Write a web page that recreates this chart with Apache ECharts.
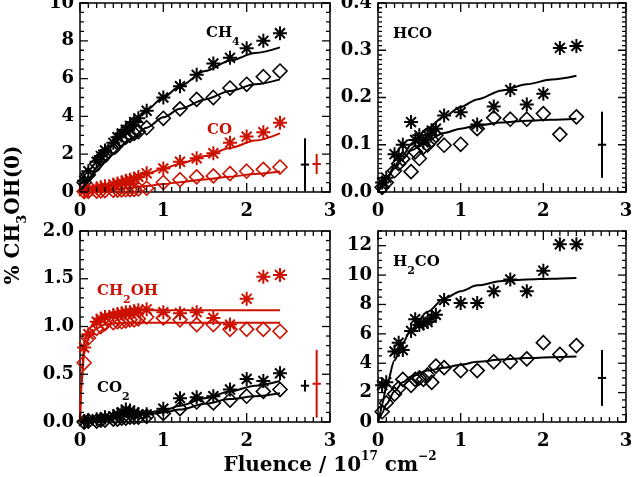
<!DOCTYPE html>
<html>
<head>
<meta charset="utf-8">
<script src="https://cdn.jsdelivr.net/npm/echarts@6/dist/echarts.min.js"></script>
<style>
	html, body { margin: 0; padding: 0; background: #fff; }
	#main { width: 632px; height: 477px; }
</style>
</head>
<body>
<div id="main"></div>
<script>
/*
 四面板图: CH3OH 辐照产物随 fluence 变化
 星号 / 菱形 = 两组实验, 实线 = 拟合, 右侧竖线 = 误差棒
*/

var fluence = [0.05, 0.1, 0.2, 0.25, 0.3, 0.4, 0.45, 0.5, 0.55, 0.6, 0.65, 0.7, 0.8, 1.0, 1.2, 1.4, 1.6, 1.8, 2.0, 2.2, 2.4];

// top left
var ch4Star = [0.6, 1.1, 1.6, 1.9, 2.2, 2.6, 2.9, 3.1, 3.3, 3.5, 3.7, 3.9, 4.3, 5.0, 5.6, 6.2, 6.8, 7.1, 7.6, 8.0, 8.4];
var ch4Diam = [0.5, 0.9, 1.5, 1.8, 2.0, 2.4, 2.6, 2.75, 2.9, 3.0, 3.1, 3.2, 3.4, 3.9, 4.4, 4.9, 5.0, 5.5, 5.7, 6.1, 6.4];
var coStar = [0.05, 0.1, 0.2, 0.25, 0.3, 0.4, 0.45, 0.5, 0.6, 0.65, 0.7, 0.8, 0.99, 1.25, 1.6, 1.78, 2.05, 2.61, 2.93, 3.16, 3.67];
var coDiam = [0.02, 0.03, 0.05, 0.06, 0.07, 0.09, 0.1, 0.11, 0.12, 0.13, 0.14, 0.16, 0.2, 0.5, 0.65, 0.8, 0.85, 0.97, 1.1, 1.2, 1.32];
// top right
var hcoStar = [0.02, 0.03, 0.08, 0.075, 0.1, 0.148, 0.11, 0.12, 0.105, 0.12, 0.13, 0.134, 0.162, 0.169, 0.143, 0.181, 0.216, 0.185, 0.208, 0.305, 0.309];
var hcoDiam = [0.01, 0.02, 0.045, 0.06, 0.07, 0.043, 0.085, 0.071, 0.095, 0.1, 0.11, 0.12, 0.099, 0.101, 0.134, 0.157, 0.154, 0.154, 0.166, 0.122, 0.159];
// bottom left
var ch2ohStar = [0.78, 0.92, 1.05, 1.08, 1.1, 1.12, 1.13, 1.14, 1.15, 1.15, 1.16, 1.17, 1.18, 1.15, 1.14, 1.15, 1.09, 1.02, 1.29, 1.52, 1.54];
var ch2ohDiam = [0.62, 0.88, 0.98, 1.0, 1.03, 1.04, 1.05, 1.05, 1.06, 1.07, 1.07, 1.08, 1.1, 1.09, 1.07, 1.02, 1.02, 0.97, 0.97, 0.97, 0.95];
var co2Star = [0.01, 0.02, 0.03, 0.03, 0.05, 0.06, 0.08, 0.1, 0.13, 0.12, 0.1, 0.08, 0.08, 0.14, 0.25, 0.26, 0.27, 0.34, 0.45, 0.43, 0.51];
var co2Diam = [0.0, 0.01, 0.01, 0.02, 0.02, 0.03, 0.03, 0.04, 0.04, 0.05, 0.05, 0.05, 0.06, 0.09, 0.14, 0.21, 0.2, 0.23, 0.27, 0.32, 0.34];
// bottom right
var h2coStar = [2.5, 2.7, 4.8, 5.4, 4.9, 6.2, 7.0, 6.6, 6.7, 6.8, 7.1, 7.3, 8.3, 8.1, 8.1, 8.9, 9.7, 8.9, 10.3, 12.1, 12.1];
var h2coDiam = [0.7, 1.3, 1.9, 2.3, 2.9, 2.5, 2.9, 3.0, 2.9, 3.2, 2.7, 3.8, 3.7, 3.5, 3.5, 4.1, 4.1, 4.3, 5.4, 4.6, 5.2];

// fit curves
var fitX = [0, 0.02, 0.05, 0.1, 0.2, 0.3, 0.4, 0.6, 0.8, 1.0, 1.2, 1.5, 1.8, 2.1, 2.4];
var ch4StarFit = [0, 0.14, 0.34, 0.67, 1.3, 1.9, 2.5, 3.5, 4.35, 5.0, 5.6, 6.4, 6.95, 7.35, 7.65];
var ch4DiamFit = [0, 0.12, 0.29, 0.57, 1.1, 1.57, 2.0, 2.8, 3.4, 3.95, 4.4, 4.9, 5.35, 5.7, 5.96];
var coStarFit = [0, 0.02, 0.06, 0.12, 0.23, 0.34, 0.45, 0.71, 0.97, 1.23, 1.5, 1.9, 2.33, 2.72, 3.1];
var coDiamFit = [0, 0.01, 0.02, 0.04, 0.07, 0.1, 0.14, 0.23, 0.32, 0.42, 0.52, 0.66, 0.81, 0.95, 1.08];
var hcoStarFit = [0, 0.006, 0.014, 0.028, 0.055, 0.078, 0.1, 0.135, 0.16, 0.18, 0.196, 0.215, 0.228, 0.238, 0.246];
var hcoDiamFit = [0, 0.006, 0.014, 0.027, 0.05, 0.07, 0.088, 0.11, 0.125, 0.134, 0.141, 0.147, 0.151, 0.153, 0.155];
var ch2ohStarFit = [0, 0.45, 0.82, 0.97, 1.08, 1.13, 1.15, 1.165, 1.17, 1.17, 1.17, 1.17, 1.17, 1.17, 1.17];
var ch2ohDiamFit = [0, 0.4, 0.72, 0.88, 0.98, 1.02, 1.035, 1.04, 1.04, 1.04, 1.04, 1.04, 1.04, 1.04, 1.04];
var co2StarFit = [0, 0.001, 0.003, 0.007, 0.02, 0.035, 0.05, 0.08, 0.1, 0.12, 0.17, 0.25, 0.32, 0.38, 0.43];
var co2DiamFit = [0, 0.001, 0.002, 0.005, 0.015, 0.03, 0.04, 0.065, 0.08, 0.1, 0.13, 0.19, 0.24, 0.27, 0.3];
var h2coStarFit = [0, 0.5, 1.2, 2.4, 4.2, 5.4, 6.3, 7.5, 8.4, 8.9, 9.3, 9.6, 9.7, 9.75, 9.8];
var h2coDiamFit = [0, 0.25, 0.6, 1.2, 2.1, 2.7, 3.1, 3.5, 3.7, 3.9, 4.1, 4.25, 4.35, 4.4, 4.45];

// error bars: [fluence, centre, half length]
var errCH4 = [2.7, 1.45, 1.4];
var errCO = [2.84, 1.48, 0.53];
var errHCO = [2.71, 0.1, 0.07];
var errCO2 = [2.7, 0.38, 0.06];
var errCH2OH = [2.84, 0.4, 0.355];
var errH2CO = [2.71, 3.0, 1.9];

// axes
var xMax = 3;
var xStep = 1;
var xMinor = 10;
var yMax = [10, 0.4, 2.0, 13];
var yStep = [2, 0.1, 0.5, 2];
var yMinor = [4, 10, 5, 4];
var yDigits = [0, 1, 1, 0];

var GRIDS = [
	{ left: 80, top: 3, width: 250, height: 189 },
	{ left: 378, top: 3, width: 248, height: 189 },
	{ left: 80, top: 231, width: 250, height: 191 },
	{ left: 378, top: 231, width: 248, height: 191 }
];

var RED = '#cc1100';
var FONT = 'DejaVu Serif';
var STAR = 'path://M0,-10L0,10M-10,0L10,0M-7.07,-7.07L7.07,7.07M-7.07,7.07L7.07,-7.07';

function pairs(xs, ys) {
	var out = [];
	for (var i = 0; i < xs.length; i++) {
		out.push([xs[i], ys[i]]);
	}
	return out;
}

function pointSeries(panel, ys, color, isStar) {
	return {
		type: 'scatter',
		xAxisIndex: panel * 2,
		yAxisIndex: panel * 2,
		symbol: isStar ? STAR : 'diamond',
		symbolSize: 14,
		itemStyle: {
			color: 'none',
			borderColor: color,
			borderWidth: isStar ? 2 : 1.6,
			opacity: 1
		},
		data: pairs(fluence, ys),
		z: 3
	};
}

function fitSeries(panel, ys, color) {
	return {
		type: 'line',
		xAxisIndex: panel * 2,
		yAxisIndex: panel * 2,
		showSymbol: false,
		smooth: 0.3,
		smoothMonotone: 'x',
		lineStyle: { color: color, width: 2 },
		data: pairs(fitX, ys),
		z: 4
	};
}

function segSeries(panel, p1, p2, color, width, z) {
	return {
		type: 'line',
		xAxisIndex: panel * 2,
		yAxisIndex: panel * 2,
		symbol: 'none',
		showSymbol: false,
		silent: true,
		clip: false,
		lineStyle: { color: color, width: width },
		data: [p1, p2],
		z: z
	};
}

function errSeries(panel, err, color) {
	var cap = 0.05;
	return [
		segSeries(panel, [err[0], err[1] - err[2]], [err[0], err[1] + err[2]], color, 2, 4),
		segSeries(panel, [err[0] - cap, err[1]], [err[0] + cap, err[1]], color, 2, 4)
	];
}

// 朝内的刻度: 每根刻度一条两点折线, 长度按像素换成数值
function tickSeries(panel) {
	var out = [];
	var g = GRIDS[panel];
	var ym = yMax[panel], ys = yStep[panel], yn = yMinor[panel];
	var nx = Math.round(xMax / xStep * xMinor);
	for (var j = 0; j <= nx; j++) {
		var vx = j * xStep / xMinor;
		var lx = ((j % xMinor == 0) ? 9 : 5) * ym / g.height;
		out.push(segSeries(panel, [vx, 0], [vx, lx], '#000', 1.3, 5));
		out.push(segSeries(panel, [vx, ym], [vx, ym - lx], '#000', 1.3, 5));
	}
	var ny = Math.round(ym / ys * yn);
	for (var k = 0; k <= ny; k++) {
		var vy = k * ys / yn;
		var ly = ((k % yn == 0) ? 8 : 4) * xMax / g.width;
		out.push(segSeries(panel, [0, vy], [ly, vy], '#000', 1.3, 5));
		out.push(segSeries(panel, [xMax, vy], [xMax - ly, vy], '#000', 1.3, 5));
	}
	return out;
}

function ax(gi, max, interval, opts) {
	var a = {
		gridIndex: gi,
		type: 'value',
		min: 0,
		max: max,
		interval: interval,
		axisLine: { show: true, onZero: false, lineStyle: { color: '#000', width: 1.5 } },
		axisTick: { show: false },
		minorTick: { show: false },
		splitLine: { show: false }
	};
	return Object.assign(a, opts || {});
}

function tickLabel(margin) {
	return { show: true, margin: margin, color: '#000', fontFamily: FONT, fontWeight: 'bold', fontSize: 18 };
}

function buildAxes(n) {
	var xAxis = [], yAxis = [];
	for (var i = 0; i < n; i++) {
		xAxis.push(ax(i, xMax, xStep, { axisLabel: tickLabel(10) }));
		xAxis.push(ax(i, xMax, xStep, { position: 'top', axisLabel: { show: false } }));

		var yl = tickLabel(6);
		yl.formatter = (function (digits, max) {
			return function (val) {
				if (max == 13 && val > 12.5) return '';
				return val.toFixed(digits);
			};
		})(yDigits[i], yMax[i]);
		yAxis.push(ax(i, yMax[i], yStep[i], { axisLabel: yl }));
		yAxis.push(ax(i, yMax[i], yStep[i], { position: 'right', axisLabel: { show: false } }));
	}
	return { xAxis: xAxis, yAxis: yAxis };
}

function chemText(x, y, text, color) {
	return {
		type: 'text',
		x: x,
		y: y,
		z: 10,
		style: {
			text: text,
			fill: color,
			align: 'left',
			verticalAlign: 'middle',
			rich: {
				m: { fill: color, fontFamily: FONT, fontWeight: 'bold', fontSize: 15, lineHeight: 30, verticalAlign: 'middle' },
				s: { fill: color, fontFamily: FONT, fontWeight: 'bold', fontSize: 11, lineHeight: 10, verticalAlign: 'bottom' }
			}
		}
	};
}

function drawPanels(divId) {
	var dom = document.getElementById(divId);
	var chart = echarts.getInstanceByDom(dom);
	if (chart == '' || chart == undefined || chart == null) {
		chart = echarts.init(dom);
	} else {
		chart.clear();
	}

	var grids = [];
	for (var i = 0; i < GRIDS.length; i++) {
		grids.push(Object.assign({ outerBoundsMode: 'none' }, GRIDS[i]));
	}
	var axes = buildAxes(grids.length);

	var series = [
		pointSeries(0, ch4Star, '#000', true),
		pointSeries(0, ch4Diam, '#000', false),
		pointSeries(0, coStar, RED, true),
		pointSeries(0, coDiam, RED, false),
		fitSeries(0, ch4StarFit, '#000'),
		fitSeries(0, ch4DiamFit, '#000'),
		fitSeries(0, coStarFit, RED),
		fitSeries(0, coDiamFit, RED),

		pointSeries(1, hcoStar, '#000', true),
		pointSeries(1, hcoDiam, '#000', false),
		fitSeries(1, hcoStarFit, '#000'),
		fitSeries(1, hcoDiamFit, '#000'),

		pointSeries(2, ch2ohStar, RED, true),
		pointSeries(2, ch2ohDiam, RED, false),
		pointSeries(2, co2Star, '#000', true),
		pointSeries(2, co2Diam, '#000', false),
		fitSeries(2, ch2ohStarFit, RED),
		fitSeries(2, ch2ohDiamFit, RED),
		fitSeries(2, co2StarFit, '#000'),
		fitSeries(2, co2DiamFit, '#000'),

		pointSeries(3, h2coStar, '#000', true),
		pointSeries(3, h2coDiam, '#000', false),
		fitSeries(3, h2coStarFit, '#000'),
		fitSeries(3, h2coDiamFit, '#000')
	];
	series = series.concat(
		errSeries(0, errCH4, '#000'),
		errSeries(0, errCO, RED),
		errSeries(1, errHCO, '#000'),
		errSeries(2, errCO2, '#000'),
		errSeries(2, errCH2OH, RED),
		errSeries(3, errH2CO, '#000')
	);
	for (var p = 0; p < grids.length; p++) {
		series = series.concat(tickSeries(p));
	}

	var titleRich = {
		m: { fill: '#000', fontFamily: FONT, fontWeight: 'bold', fontSize: 20, lineHeight: 30, verticalAlign: 'middle' },
		p: { fill: '#000', fontFamily: FONT, fontWeight: 'bold', fontSize: 12, lineHeight: 12, verticalAlign: 'top' },
		s: { fill: '#000', fontFamily: FONT, fontWeight: 'bold', fontSize: 13, lineHeight: 12, verticalAlign: 'bottom' }
	};

	var option = {
		animation: false,
		grid: grids,
		xAxis: axes.xAxis,
		yAxis: axes.yAxis,
		series: series,
		graphic: [
			chemText(206, 33, '{m|CH}{s|4}', '#000'),
			chemText(207, 130, '{m|CO}', RED),
			chemText(393, 34, '{m|HCO}', '#000'),
			chemText(393, 262, '{m|H}{s|2}{m|CO}', '#000'),
			chemText(97, 291, '{m|CH}{s|2}{m|OH}', RED),
			chemText(97, 388, '{m|CO}{s|2}', '#000'),
			{
				type: 'text',
				x: 330,
				y: 466,
				z: 10,
				style: {
					text: '{m|Fluence / 10}{p|17}{m| cm}{p|\u22122}',
					align: 'center',
					verticalAlign: 'middle',
					rich: titleRich
				}
			},
			{
				type: 'text',
				x: 14,
				y: 215,
				rotation: Math.PI / 2,
				z: 10,
				style: {
					text: '{m|% CH}{s|3}{m|OH(0)}',
					align: 'center',
					verticalAlign: 'middle',
					rich: titleRich
				}
			}
		]
	};

	chart.setOption(option);
	window.addEventListener("resize", function(e) {
		chart.resize();
	});
	return chart;
}

drawPanels('main');
</script>
</body>
</html>
